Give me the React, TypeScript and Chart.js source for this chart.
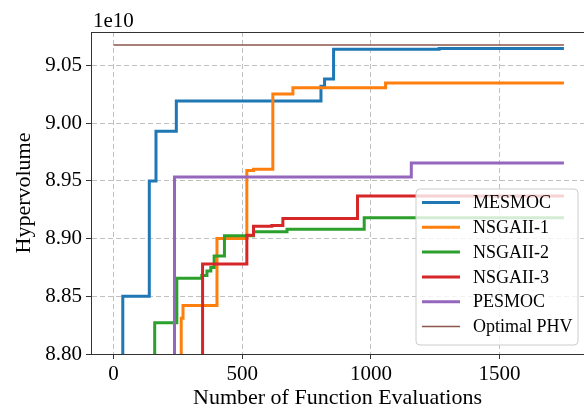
import React, { useEffect, useRef } from "react";
import { Chart, registerables } from "chart.js";

Chart.register(...registerables);

const FONT = "'Liberation Serif', 'Times New Roman', serif";

const seriesNames = ["MESMOC", "NSGAII-1", "NSGAII-2", "NSGAII-3", "PESMOC", "Optimal PHV"];
const seriesColors = ["#1f77b4", "#ff7f0e", "#2ca02c", "#d62728", "#9467bd", "#8c564b"];
const seriesWidths = [3, 3, 3, 3, 3, 1.5];

// values in units of 1e10; each point marks where a new hypervolume level starts
const mesmocX = [0, 36, 139, 165, 244, 806, 820, 855, 1265, 1750];
const mesmocY = [8.75, 8.85, 8.95, 8.993, 9.0193, 9.0321, 9.0382, 9.064, 9.0648, 9.0648];

const nsga1X = [0, 263, 270, 402, 518, 544, 619, 697, 1057, 1750];
const nsga1Y = [8.75, 8.831, 8.842, 8.9, 8.959, 8.96, 9.0252, 9.0306, 9.0349, 9.0349];

const nsga2X = [0, 160, 246, 343, 363, 378, 391, 431, 544, 674, 974, 1750];
const nsga2Y = [8.75, 8.827, 8.8656, 8.868, 8.872, 8.875, 8.885, 8.9024, 8.906, 8.908, 8.918, 8.918];

const nsga3X = [0, 346, 518, 544, 615, 658, 948, 1750];
const nsga3Y = [8.75, 8.878, 8.903, 8.9106, 8.9114, 8.9175, 8.9368, 8.9368];

const pesmocX = [0, 237, 1157, 1750];
const pesmocY = [8.75, 8.9533, 8.9654, 8.9654];

const optimalX = [0, 1750];
const optimalY = [9.0677, 9.0677];

const xTicks = [0, 500, 1000, 1500];
const yTicks = [8.8, 8.85, 8.9, 8.95, 9.0, 9.05];

const seriesX = [mesmocX, nsga1X, nsga2X, nsga3X, pesmocX, optimalX];
const seriesY = [mesmocY, nsga1Y, nsga2Y, nsga3Y, pesmocY, optimalY];

const decorPlugin = {
  id: "decor",
  afterDraw(chart: any) {
    const { ctx, chartArea } = chart;
    ctx.save();
    // top spine
    ctx.strokeStyle = "#333333";
    ctx.lineWidth = 1;
    ctx.beginPath();
    ctx.moveTo(chartArea.left, Math.round(chartArea.top) + 0.5);
    ctx.lineTo(chartArea.right, Math.round(chartArea.top) + 0.5);
    ctx.stroke();

    // offset text
    ctx.fillStyle = "#000";
    ctx.font = `21px ${FONT}`;
    ctx.textAlign = "left";
    ctx.textBaseline = "alphabetic";
    ctx.fillText("1e10", chartArea.left + 2, chartArea.top - 5);

    // legend
    const boxW = 162;
    const boxH = 156;
    const right = chartArea.right - 6;
    const bottom = chartArea.bottom - 9;
    const x0 = right - boxW;
    const y0 = bottom - boxH;
    const r = 4;
    ctx.beginPath();
    ctx.moveTo(x0 + r, y0);
    ctx.lineTo(x0 + boxW - r, y0);
    ctx.quadraticCurveTo(x0 + boxW, y0, x0 + boxW, y0 + r);
    ctx.lineTo(x0 + boxW, y0 + boxH - r);
    ctx.quadraticCurveTo(x0 + boxW, y0 + boxH, x0 + boxW - r, y0 + boxH);
    ctx.lineTo(x0 + r, y0 + boxH);
    ctx.quadraticCurveTo(x0, y0 + boxH, x0, y0 + boxH - r);
    ctx.lineTo(x0, y0 + r);
    ctx.quadraticCurveTo(x0, y0, x0 + r, y0);
    ctx.closePath();
    ctx.fillStyle = "rgba(255,255,255,0.8)";
    ctx.fill();
    ctx.strokeStyle = "#cccccc";
    ctx.lineWidth = 1;
    ctx.stroke();

    ctx.font = `18px ${FONT}`;
    ctx.textBaseline = "middle";
    const datasets = chart.data.datasets;
    for (let i = 0; i < datasets.length; i++) {
      const ds = datasets[i];
      const cy = y0 + 13.5 + i * 24.8;
      ctx.strokeStyle = ds.borderColor;
      ctx.lineWidth = ds.borderWidth;
      ctx.beginPath();
      ctx.moveTo(x0 + 6, cy);
      ctx.lineTo(x0 + 44, cy);
      ctx.stroke();
      ctx.fillStyle = "#000";
      ctx.fillText(ds.label, x0 + 57, cy + 1);
    }
    ctx.restore();
  },
};

export default function App() {
  const canvasRef = useRef<HTMLCanvasElement | null>(null);

  useEffect(() => {
    const canvas = canvasRef.current;
    if (!canvas) return;
    const datasets = seriesNames.map((name, i) => ({
      label: name,
      data: seriesX[i].map((x, j) => ({ x, y: seriesY[i][j] })),
      borderColor: seriesColors[i],
      backgroundColor: seriesColors[i],
      borderWidth: seriesWidths[i],
      pointRadius: 0,
      stepped: "before" as const,
      tension: 0,
      fill: false,
      order: seriesNames.length - i,
    }));

    const chart = new Chart(canvas, {
      type: "line",
      data: { datasets },
      plugins: [decorPlugin],
      options: {
        animation: false,
        responsive: false,
        devicePixelRatio: 1,
        layout: { padding: { top: 32, right: 0, left: 0, bottom: 0 } },
        plugins: {
          legend: { display: false },
          tooltip: { enabled: false },
        },
        scales: {
          x: {
            type: "linear",
            min: -87.5,
            max: 1828,
            afterBuildTicks: (scale: any) => {
              scale.ticks = xTicks.map((v) => ({ value: v }));
            },
            afterFit: (scale: any) => {
              scale.height = 55;
            },
            ticks: {
              color: "#000",
              font: { family: FONT, size: 21 },
              padding: 3,
              maxRotation: 0,
              callback: (v: any) => String(v),
            },
            grid: {
              color: "#b0b0b0",
              lineWidth: 0.8,
              tickLength: 5,
              tickColor: "#333333",
              tickWidth: 1,
              tickBorderDash: [],
            },
            border: { display: true, color: "#333333", width: 1, dash: [5, 3] },
            title: {
              display: true,
              text: "Number of Function Evaluations",
              color: "#000",
              font: { family: FONT, size: 22, lineHeight: 1 },
              padding: { top: 0, bottom: 0 },
            },
          },
          y: {
            type: "linear",
            min: 8.8,
            max: 9.079,
            afterBuildTicks: (scale: any) => {
              scale.ticks = yTicks.map((v) => ({ value: v }));
            },
            afterFit: (scale: any) => {
              scale.width = 91;
            },
            ticks: {
              color: "#000",
              font: { family: FONT, size: 21 },
              padding: 4,
              callback: (v: any) => Number(v).toFixed(2),
            },
            grid: {
              color: "#b0b0b0",
              lineWidth: 0.8,
              tickLength: 5,
              tickColor: "#333333",
              tickWidth: 1,
              tickBorderDash: [],
            },
            border: { display: true, color: "#333333", width: 1, dash: [5, 3] },
            title: {
              display: true,
              text: "Hypervolume",
              color: "#000",
              font: { family: FONT, size: 22, lineHeight: 1 },
              padding: { top: 13, bottom: 0 },
            },
          },
        },
      },
    } as any);

    return () => chart.destroy();
  }, []);

  return (
    <div style={{ position: "absolute", left: 0, top: 0, width: 584, height: 409, background: "#fff" }}>
      <canvas ref={canvasRef} width={584} height={409} style={{ display: "block" }} />
    </div>
  );
}
